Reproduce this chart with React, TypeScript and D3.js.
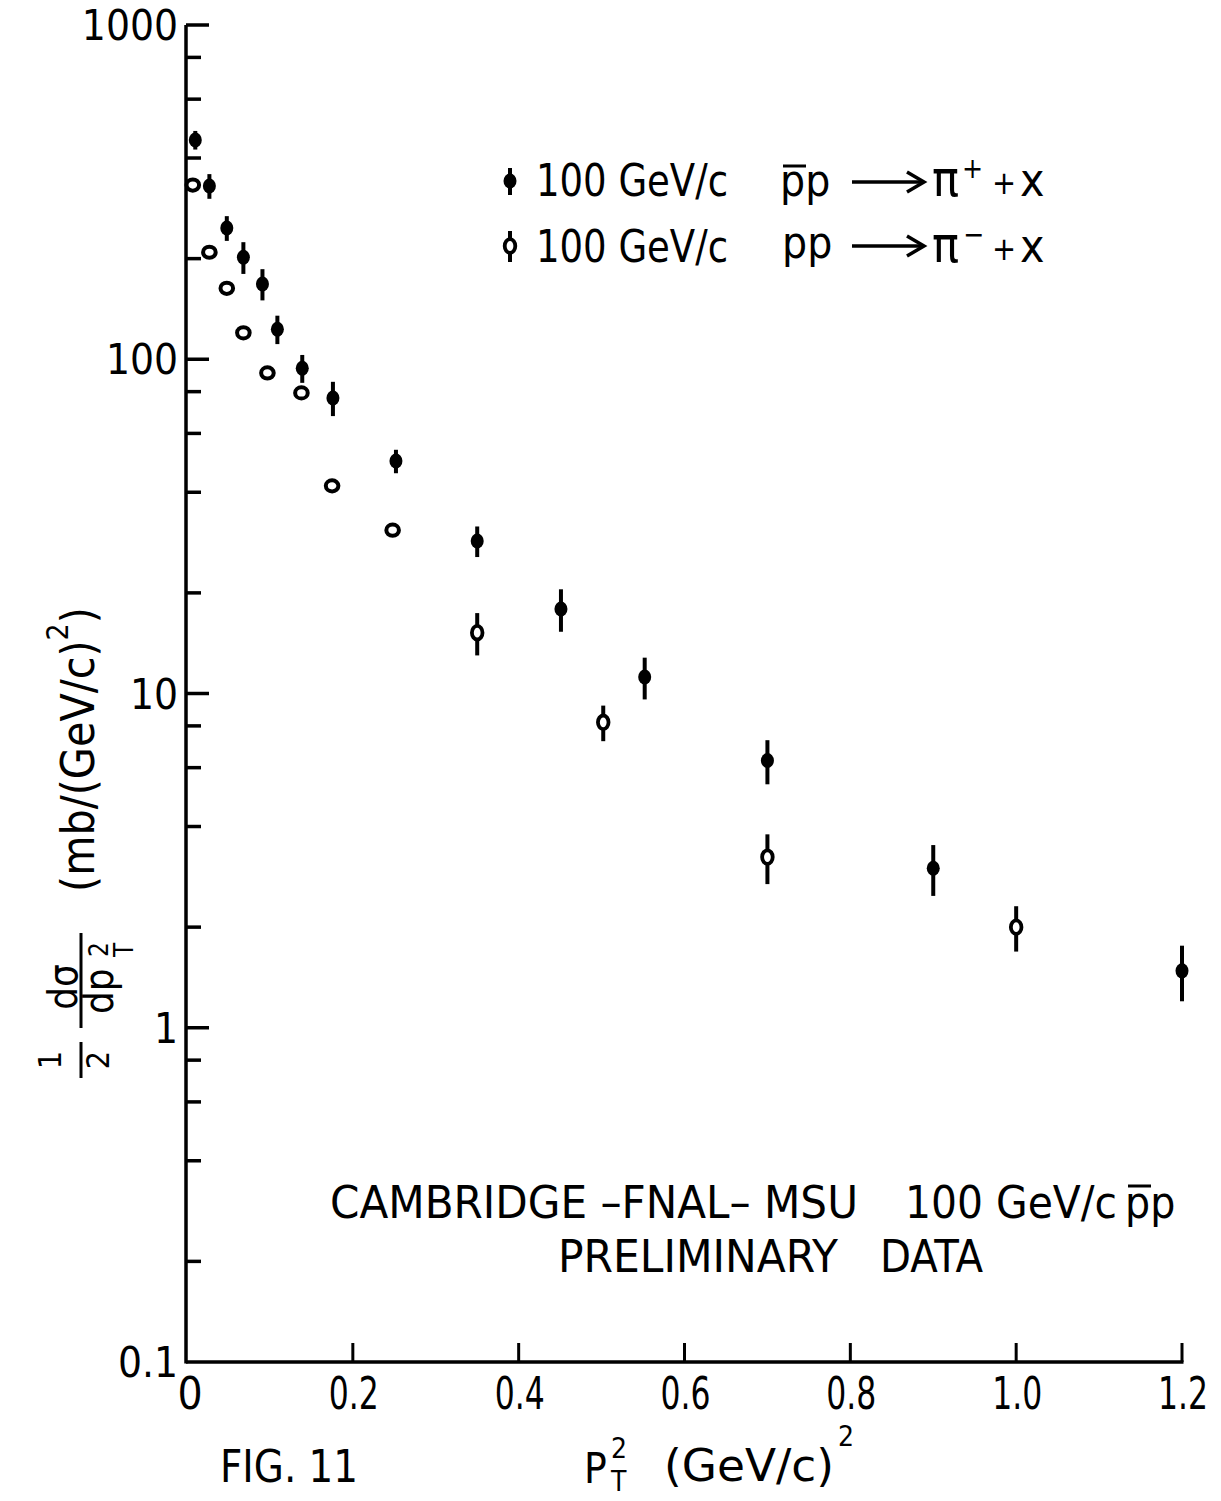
import React from "react";
import * as d3 from "d3";

// ---- data ----
// 100 GeV/c  p̄p -> π+ + x   (filled points)
const pbarX = [0.01, 0.027, 0.048, 0.068, 0.091, 0.109, 0.139, 0.176, 0.252, 0.35, 0.451, 0.552, 0.70, 0.90, 1.20];
const pbarY = [453, 330, 247, 202, 168, 123, 94, 76.6, 49.6, 28.6, 17.9, 11.2, 6.3, 3.0, 1.48];
const pbarErr = [29, 28, 21, 22, 18, 12, 9, 9, 4, 3, 2.6, 1.6, 0.95, 0.52, 0.28];

// 100 GeV/c  pp -> π- + x   (open points)
const ppX = [0.007, 0.027, 0.048, 0.068, 0.097, 0.138, 0.175, 0.248, 0.35, 0.502, 0.70, 1.0];
const ppY = [332, 209, 163, 120, 91, 79.3, 41.8, 30.8, 15.2, 8.2, 3.24, 2.0];
const ppErr = [0, 0, 0, 0, 0, 0, 0, 0, 2.2, 1.0, 0.55, 0.31];

const xTicks = [0, 0.2, 0.4, 0.6, 0.8, 1.0, 1.2];
const xTickLabels = ["0", "0.2", "0.4", "0.6", "0.8", "1.0", "1.2"];
const yMajor = [0.1, 1, 10, 100, 1000];
const yMajorLabels = ["0.1", "1", "10", "100", "1000"];
const yMinorMult = [2, 4, 6, 8];

const FONT = "'DejaVu Sans Condensed', 'DejaVu Sans', sans-serif";

function Filled({ cx, cy, y0, y1 }: { cx: number; cy: number; y0: number; y1: number }) {
  return (
    <g>
      {y1 - y0 > 0 && <line x1={cx} x2={cx} y1={y0} y2={y1} stroke="#000" strokeWidth={4} />}
      <ellipse cx={cx} cy={cy} rx={6.5} ry={7.5} fill="#000" />
    </g>
  );
}

function Open({ cx, cy, y0, y1, withErr }: { cx: number; cy: number; y0: number; y1: number; withErr: boolean }) {
  if (!withErr) {
    return <ellipse cx={cx} cy={cy} rx={6.3} ry={5.6} fill="#fff" stroke="#000" strokeWidth={4} />;
  }
  return (
    <g>
      <line x1={cx} x2={cx} y1={y0} y2={y1} stroke="#000" strokeWidth={4} />
      <ellipse cx={cx} cy={cy} rx={5.3} ry={6.8} fill="#fff" stroke="#000" strokeWidth={3.8} />
    </g>
  );
}

function Arrow({ x0, x1, yy }: { x0: number; x1: number; yy: number }) {
  return (
    <g>
      <line x1={x0} x2={x1 - 2} y1={yy} y2={yy} stroke="#000" strokeWidth={3.5} />
      <path d={`M${x1 - 17},${yy - 10} L${x1},${yy} L${x1 - 17},${yy + 10}`} fill="none" stroke="#000" strokeWidth={3.5} />
    </g>
  );
}

export default function App() {
  const x = d3.scaleLinear().domain([0, 1.2]).range([187, 1182]);
  const y = d3.scaleLog().domain([0.1, 1000]).range([1362, 25]);
  const yMinor = yMajor.slice(0, -1).flatMap((d) => yMinorMult.map((m) => d * m));

  const pbar = pbarX.map((v, i) => ({ x: v, y: pbarY[i], e: pbarErr[i] }));
  const pp = ppX.map((v, i) => ({ x: v, y: ppY[i], e: ppErr[i] }));

  return (
    <svg
      width={1221}
      height={1501}
      viewBox="0 0 1221 1501"
      style={{ position: "absolute", left: 0, top: 0, background: "#fff" }}
      fontFamily={FONT}
    >
      <rect x={0} y={0} width={1221} height={1501} fill="#fff" />

      {/* axes */}
      <line x1={186} x2={186} y1={y(1000)} y2={y(0.1) + 1.5} stroke="#000" strokeWidth={3.5} />
      <line x1={186} x2={x(1.2) + 1.5} y1={y(0.1)} y2={y(0.1)} stroke="#000" strokeWidth={3.5} />

      {/* y ticks */}
      {yMajor.map((d, i) => (
        <g key={"ym" + i}>
          {d > 0.1 && <line x1={186} x2={209} y1={y(d)} y2={y(d)} stroke="#000" strokeWidth={3.5} />}
          <text x={178} y={y(d) + 15} textAnchor="end" fontSize={42} fill="#000">
            {yMajorLabels[i]}
          </text>
        </g>
      ))}
      {yMinor.map((d, i) => (
        <line key={"yn" + i} x1={186} x2={201} y1={y(d)} y2={y(d)} stroke="#000" strokeWidth={3.5} />
      ))}

      {/* x ticks */}
      {xTicks.map((d, i) => (
        <g key={"xt" + i}>
          {d > 0 && <line x1={x(d)} x2={x(d)} y1={y(0.1)} y2={y(0.1) - 19} stroke="#000" strokeWidth={3} />}
          {d === 0 ? (
            <text x={x(d) + 3} y={1409} textAnchor="middle" fontSize={44} fill="#000">
              {xTickLabels[i]}
            </text>
          ) : (
            <text
              x={x(d) - 24}
              y={1409}
              fontSize={44}
              fill="#000"
              textLength={50}
              lengthAdjust="spacingAndGlyphs"
            >
              {xTickLabels[i]}
            </text>
          )}
        </g>
      ))}

      {/* data: open */}
      {pp.map((d, i) => (
        <Open
          key={"o" + i}
          cx={x(d.x)}
          cy={y(d.y)}
          y0={y(d.y + d.e)}
          y1={y(d.y - d.e)}
          withErr={d.e > 0}
        />
      ))}
      {/* data: filled */}
      {pbar.map((d, i) => (
        <Filled key={"f" + i} cx={x(d.x)} cy={y(d.y)} y0={y(d.y + d.e)} y1={y(d.y - d.e)} />
      ))}

      {/* legend */}
      <Filled cx={510} cy={181} y0={168} y1={195} />
      <text x={536} y={196} fontSize={44} fill="#000" textLength={192} lengthAdjust="spacingAndGlyphs">
        100 GeV/c
      </text>
      <text x={780} y={196} fontSize={44} fill="#000">pp</text>
      <line x1={783} x2={806} y1={166} y2={166} stroke="#000" strokeWidth={3} />
      <Arrow x0={852} x1={924} yy={182} />
      <text x={932} y={196} fontSize={50} fill="#000">π</text>
      <text x={962} y={178} fontSize={28} fill="#000">+</text>
      <text x={992} y={194} fontSize={32} fill="#000">+</text>
      <text x={1020} y={196} fontSize={46} fill="#000">x</text>

      <Open cx={510} cy={246} y0={231} y1={262} withErr={true} />
      <text x={536} y={262} fontSize={44} fill="#000" textLength={192} lengthAdjust="spacingAndGlyphs">
        100 GeV/c
      </text>
      <text x={782} y={258} fontSize={44} fill="#000">pp</text>
      <Arrow x0={852} x1={924} yy={246} />
      <text x={932} y={262} fontSize={50} fill="#000">π</text>
      <text x={963} y={244} fontSize={28} fill="#000">−</text>
      <text x={992} y={260} fontSize={32} fill="#000">+</text>
      <text x={1020} y={262} fontSize={46} fill="#000">x</text>

      {/* annotation */}
      <text x={330} y={1218} fontSize={44} fill="#000" textLength={528} lengthAdjust="spacingAndGlyphs">
        CAMBRIDGE –FNAL– MSU
      </text>
      <text x={905} y={1218} fontSize={44} fill="#000" textLength={212} lengthAdjust="spacingAndGlyphs">
        100 GeV/c
      </text>
      <text x={1125} y={1218} fontSize={44} fill="#000">pp</text>
      <line x1={1128} x2={1151} y1={1186} y2={1186} stroke="#000" strokeWidth={3} />
      <text x={558} y={1272} fontSize={44} fill="#000" textLength={280} lengthAdjust="spacingAndGlyphs">
        PRELIMINARY
      </text>
      <text x={880} y={1272} fontSize={44} fill="#000" textLength={103} lengthAdjust="spacingAndGlyphs">
        DATA
      </text>

      {/* x axis title */}
      <text x={584} y={1483} fontSize={42} fill="#000">P</text>
      <text x={611} y={1458} fontSize={28} fill="#000">2</text>
      <text x={611} y={1491} fontSize={28} fill="#000">T</text>
      <text x={664} y={1481} fontSize={44} fill="#000" textLength={170} lengthAdjust="spacingAndGlyphs">
        (GeV/c)
      </text>
      <text x={838} y={1446} fontSize={28} fill="#000">2</text>

      {/* figure label */}
      <text x={220} y={1482} fontSize={44} fill="#000" textLength={138} lengthAdjust="spacingAndGlyphs">
        FIG. 11
      </text>

      {/* y axis title (rotated) */}
      <text transform="translate(94,892) rotate(-90)" fontSize={46} fill="#000">
        (mb/(GeV/c)<tspan fontSize={30} dy={-26}>2</tspan>
        <tspan dy={26}>)</tspan>
      </text>
      {/* d sigma / d p_T^2 */}
      <text transform="translate(77,987) rotate(-90)" fontSize={40} textAnchor="middle" fill="#000">
        dσ
      </text>
      <line x1={81} x2={81} y1={933} y2={1028} stroke="#000" strokeWidth={3} />
      <text transform="translate(113,1014) rotate(-90)" fontSize={40} fill="#000">
        dp
      </text>
      <text transform="translate(108,957) rotate(-90)" fontSize={26} fill="#000">2</text>
      <text transform="translate(133,957) rotate(-90)" fontSize={26} fill="#000">T</text>
      {/* 1/2 */}
      <text transform="translate(61,1060) rotate(-90)" fontSize={32} textAnchor="middle" fill="#000">
        1
      </text>
      <line x1={81} x2={81} y1={1042} y2={1078} stroke="#000" strokeWidth={3} />
      <text transform="translate(109,1060) rotate(-90)" fontSize={32} textAnchor="middle" fill="#000">
        2
      </text>
    </svg>
  );
}
